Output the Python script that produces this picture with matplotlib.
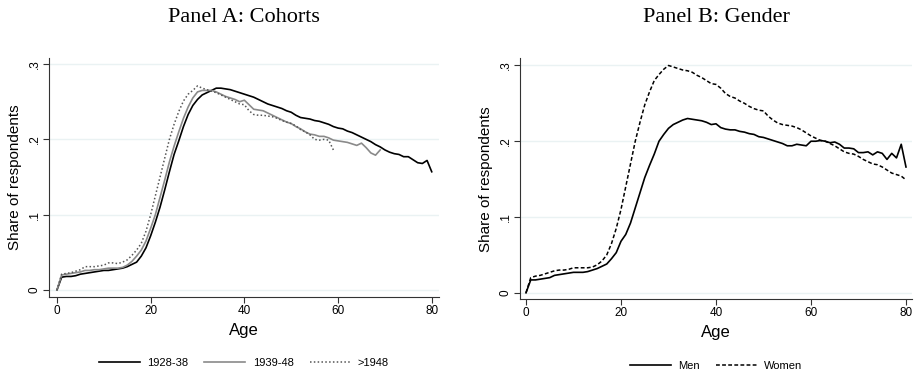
import numpy as np
import matplotlib
matplotlib.use('Agg')
import matplotlib.pyplot as plt

plt.rcParams['font.family'] = ['Liberation Sans', 'DejaVu Sans']

# Panel A: cohorts
age_a1 = list(range(0, 81))
c1928 = [0.000, 0.017, 0.018, 0.018, 0.019, 0.021, 0.022, 0.023, 0.024, 0.025,
         0.026, 0.026, 0.027, 0.028, 0.029, 0.031, 0.034, 0.037, 0.045, 0.056,
         0.072, 0.090, 0.110, 0.133, 0.157, 0.180, 0.198, 0.217, 0.233, 0.245,
         0.253, 0.259, 0.262, 0.265, 0.268, 0.268, 0.267, 0.266, 0.264, 0.262,
         0.260, 0.258, 0.256, 0.253, 0.250, 0.247, 0.245, 0.243, 0.241, 0.238,
         0.236, 0.232, 0.229, 0.228, 0.227, 0.225, 0.224, 0.222, 0.220, 0.217,
         0.215, 0.214, 0.211, 0.209, 0.206, 0.203, 0.200, 0.197, 0.193, 0.190,
         0.186, 0.183, 0.181, 0.180, 0.177, 0.177, 0.173, 0.169, 0.168, 0.172,
         0.157]
age_a2 = list(range(0, 70))
c1939 = [0.000, 0.020, 0.021, 0.022, 0.023, 0.024, 0.026, 0.026, 0.027, 0.027,
         0.028, 0.029, 0.029, 0.029, 0.030, 0.033, 0.038, 0.045, 0.053, 0.065,
         0.082, 0.100, 0.123, 0.146, 0.170, 0.191, 0.210, 0.228, 0.243, 0.255,
         0.263, 0.265, 0.265, 0.265, 0.263, 0.260, 0.257, 0.255, 0.253, 0.250,
         0.252, 0.246, 0.240, 0.239, 0.238, 0.235, 0.232, 0.229, 0.226, 0.223,
         0.221, 0.217, 0.214, 0.210, 0.207, 0.206, 0.204, 0.204, 0.202, 0.199,
         0.198, 0.197, 0.196, 0.194, 0.192, 0.195, 0.189, 0.182, 0.179, 0.186]
age_a3 = list(range(0, 60))
c1948 = [0.000, 0.021, 0.022, 0.023, 0.025, 0.027, 0.031, 0.031, 0.031, 0.032,
         0.033, 0.036, 0.036, 0.035, 0.037, 0.040, 0.046, 0.053, 0.062, 0.078,
         0.100, 0.125, 0.150, 0.175, 0.200, 0.220, 0.237, 0.251, 0.260, 0.265,
         0.271, 0.268, 0.266, 0.264, 0.262, 0.259, 0.256, 0.253, 0.250, 0.247,
         0.246, 0.238, 0.233, 0.232, 0.232, 0.231, 0.230, 0.228, 0.225, 0.223,
         0.221, 0.218, 0.213, 0.210, 0.206, 0.200, 0.199, 0.200, 0.199, 0.186]

# Panel B: gender
age_b = list(range(0, 81))
men = [0.000, 0.017, 0.017, 0.018, 0.019, 0.020, 0.023, 0.024, 0.025, 0.026,
       0.027, 0.027, 0.027, 0.028, 0.030, 0.032, 0.035, 0.038, 0.045, 0.053,
       0.068, 0.077, 0.092, 0.112, 0.132, 0.152, 0.168, 0.183, 0.200, 0.209,
       0.217, 0.222, 0.225, 0.228, 0.230, 0.229, 0.228, 0.227, 0.225, 0.222,
       0.223, 0.218, 0.216, 0.215, 0.215, 0.213, 0.212, 0.210, 0.209, 0.206,
       0.205, 0.203, 0.201, 0.199, 0.197, 0.194, 0.194, 0.196, 0.195, 0.194,
       0.200, 0.200, 0.201, 0.200, 0.198, 0.199, 0.196, 0.191, 0.191, 0.190,
       0.185, 0.185, 0.186, 0.182, 0.186, 0.184, 0.176, 0.184, 0.178, 0.196,
       0.166]
women = [0.000, 0.020, 0.022, 0.023, 0.025, 0.027, 0.029, 0.030, 0.030, 0.031,
         0.033, 0.033, 0.033, 0.033, 0.034, 0.037, 0.042, 0.050, 0.065, 0.085,
         0.110, 0.140, 0.170, 0.200, 0.225, 0.248, 0.265, 0.280, 0.288, 0.295,
         0.300, 0.298, 0.296, 0.294, 0.293, 0.291, 0.287, 0.284, 0.280, 0.276,
         0.275, 0.270, 0.263, 0.259, 0.257, 0.253, 0.250, 0.246, 0.243, 0.241,
         0.240, 0.233, 0.228, 0.224, 0.222, 0.221, 0.220, 0.218, 0.215, 0.211,
         0.207, 0.204, 0.201, 0.200, 0.197, 0.194, 0.190, 0.186, 0.184, 0.183,
         0.180, 0.176, 0.173, 0.170, 0.169, 0.166, 0.162, 0.158, 0.156, 0.154,
         0.149]

yticks = [0, 0.1, 0.2, 0.3]
ytick_labels = ['0', '.1', '.2', '.3']
xticks = [0, 20, 40, 60, 80]

fig = plt.figure(figsize=(9.16, 3.72), dpi=100)
axA = fig.add_axes([0.0535, 0.2016, 0.4255, 0.6424])
axB = fig.add_axes([0.5677, 0.196, 0.4279, 0.647])


def style(ax, xlim, ylim):
    ax.set_xlim(*xlim)
    ax.set_ylim(*ylim)
    for y in yticks:
        ax.axhline(y, color='#eaf2f3', lw=1.0, zorder=0)
    ax.spines['top'].set_visible(False)
    ax.spines['right'].set_visible(False)
    ax.spines['left'].set_color('#333333')
    ax.spines['bottom'].set_color('#333333')
    ax.set_xticks(xticks)
    ax.set_yticks(yticks)
    ax.set_yticklabels(ytick_labels, rotation=90, va='center')
    ax.tick_params(labelsize=8.5, length=4, color='#333333', pad=2)
    ax.set_xlabel('Age', fontsize=12, labelpad=4)
    ax.set_ylabel('Share of respondents', fontsize=11, labelpad=5)


axA.plot(age_a1, c1928, color='black', lw=1.2, label='1928-38')
axA.plot(age_a2, c1939, color='#8a8a8a', lw=1.2, label='1939-48')
axA.plot(age_a3, c1948, color='#555555', lw=1.1, ls=(0, (1, 1.5)), label='>1948')
style(axA, (-1.7, 81.5), (-0.0093, 0.308))
axA.set_title('Panel A: Cohorts', family='Liberation Serif', fontsize=16, pad=26)
axA.legend(loc='upper center', bbox_to_anchor=(0.5, -0.215), ncol=3, frameon=False,
           fontsize=8, handlelength=3.7, columnspacing=1.45, handletextpad=0.65)

axB.plot(age_b, men, color='black', lw=1.2, label='Men')
axB.plot(age_b, women, color='black', lw=1.1, ls=(0, (2.5, 1.5)), label='Women')
style(axB, (-1.26, 81.26), (-0.0083, 0.3093))
axB.set_title('Panel B: Gender', family='Liberation Serif', fontsize=16, pad=26)
axB.legend(loc='upper center', bbox_to_anchor=(0.5, -0.215), ncol=2, frameon=False,
           fontsize=8, handlelength=3.7, columnspacing=1.45, handletextpad=0.65)

fig.savefig('out.png', dpi=100)
